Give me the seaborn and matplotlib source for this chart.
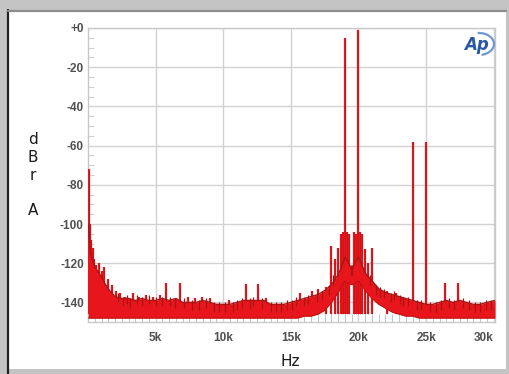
import numpy as np
import pandas as pd
import matplotlib
matplotlib.use("Agg")
import matplotlib.pyplot as plt
from matplotlib.patches import Rectangle, Arc
from matplotlib.lines import Line2D
import seaborn as sns

# --- spectrum data (frequency in kHz, level in dBrA) ---
floor_khz = [0.02, 0.1, 0.2, 0.3, 0.5, 0.7, 1.0, 1.3, 1.6, 2.0, 2.5, 3.0, 3.5, 4.0,
             4.5, 5.0, 5.5, 6.0, 6.5, 7.0, 7.5, 8.0, 8.5, 9.0, 9.5, 10.0, 10.5,
             11.0, 11.5, 12.0, 12.5, 13.0, 13.5, 14.0, 14.5, 15.0, 15.5, 16.0,
             16.5, 17.0, 17.5, 18.0, 18.5, 18.8, 19.0, 19.2, 19.5, 19.8, 20.0,
             20.2, 20.5, 21.0, 21.5, 22.0, 22.5, 23.0, 23.5, 24.0, 24.5, 25.0,
             25.5, 26.0, 26.5, 27.0, 27.5, 28.0, 28.5, 29.0, 29.5, 30.1]
floor_top = [-100, -108, -115, -118, -122, -124, -127, -131, -134, -137, -138, -138,
             -139, -138, -139, -139, -138, -139, -138, -140, -140, -140, -139, -140,
             -141, -141, -141, -140, -139, -139, -139, -139, -141, -141, -141, -140,
             -139, -138, -137, -136, -134, -131, -126, -121, -117, -119, -123, -119,
             -117, -120, -125, -129, -133, -135, -136, -137, -138, -139, -140, -141,
             -141, -140, -139, -140, -139, -140, -141, -141, -140, -139]
floor_bot = [-148, -148, -148, -148, -148, -148, -148, -148, -148, -148, -148, -148,
             -148, -148, -148, -148, -148, -148, -148, -148, -148, -148, -148, -148,
             -148, -148, -148, -148, -148, -148, -148, -148, -148, -148, -148, -148,
             -148, -147, -147, -146, -144, -140, -135, -131, -129, -130, -131, -130,
             -129, -131, -134, -138, -141, -143, -145, -146, -147, -147, -148, -148,
             -148, -148, -148, -148, -148, -148, -148, -148, -148, -148]

# tones, intermodulation products and hum/spurs
spike_khz = [0.05, 0.15, 0.25, 0.35, 0.45, 0.6, 0.8, 1.0, 1.2, 1.5, 1.8, 2.1, 2.4,
             2.7, 3.3, 3.8, 4.3, 4.8, 5.3, 5.8, 6.8, 7.4, 7.9, 8.4, 9.0, 10.4,
             11.7, 12.6, 13.2, 15.7, 16.6, 17.0, 17.6, 18.0, 18.3, 18.5, 18.7,
             18.85, 19.0, 19.15, 19.3, 19.7, 19.85, 20.0, 20.15, 20.3, 20.5, 20.7,
             21.0, 22.1, 22.8, 24.0, 25.0, 26.4, 27.4]
spike_db = [-72, -100, -108, -112, -118, -121, -120, -124, -122, -128, -131, -134,
            -135, -137, -135, -137, -136, -137, -136, -130, -130, -137, -138, -137,
            -138, -139, -130.5, -130.5, -138, -135, -134, -133, -132, -111, -118,
            -112, -105, -104, -5, -104, -105, -104, -105, -1, -104, -105, -113,
            -120, -112, -134, -135, -58, -58, -130, -130]

# small noise-floor peaks
grass_khz = [2.2, 2.6, 2.9, 3.1, 3.6, 4.0, 4.5, 5.0, 5.5, 6.1, 6.4, 7.1, 7.7, 8.2,
             8.7, 9.3, 9.7, 10.1, 10.7, 11.0, 11.4, 12.0, 12.2, 12.9, 13.5, 13.9,
             14.3, 14.7, 15.1, 15.4, 16.0, 16.3, 16.9, 17.3, 17.8, 18.15, 19.45,
             19.55, 20.85, 21.3, 21.6, 21.9, 22.4, 22.6, 23.1, 23.3, 23.7, 24.3,
             24.6, 25.3, 25.7, 26.1, 26.7, 27.1, 27.7, 28.2, 28.6, 29.0, 29.4, 29.8]
grass_db = [-135, -137, -136, -138, -136, -137, -136, -137, -137, -137, -138, -138,
            -139, -139, -138, -140, -140, -140, -140, -139, -138, -138, -137, -138,
            -140, -140, -140, -139, -139, -137, -137, -136, -135, -134, -131, -126,
            -121, -121, -126, -131, -132, -133, -135, -134, -136, -137, -137, -139,
            -139, -140, -140, -139, -138, -139, -138, -139, -140, -140, -139, -139]

y_ticks = [0, -20, -40, -60, -80, -100, -120, -140]
y_labels = ["+0", "-20", "-40", "-60", "-80", "-100", "-120", "-140"]
x_ticks = [5, 10, 15, 20, 25, 30]
x_labels = ["5k", "10k", "15k", "20k", "25k", "30k"]

band = pd.DataFrame({"kHz": floor_khz, "top": floor_top, "bot": floor_bot})

sns.set_theme(style="white")
plt.rcParams["font.family"] = ["Liberation Sans", "DejaVu Sans"]

W, H = 510, 374
fig = plt.figure(figsize=(W / 100, H / 100), dpi=100)
fig.patch.set_facecolor("#c4c4c4")


def fx(px):
    return px / W


def fy(py):
    return 1 - py / H


# white panel with dark left/top rule
fig.add_artist(Rectangle((fx(8), fy(369)), fx(498), (369 - 10) / H,
                         transform=fig.transFigure, facecolor="white",
                         edgecolor="none", zorder=0))
fig.add_artist(Line2D([fx(8), fx(8)], [fy(10), fy(374)], transform=fig.transFigure,
                      color="#202020", lw=1.6))
fig.add_artist(Line2D([fx(8), fx(506)], [fy(10.5), fy(10.5)], transform=fig.transFigure,
                      color="#8c8c8c", lw=1.6))

ax = fig.add_axes([fx(88), fy(322), fx(495 - 88), (322 - 28) / H])
ax.set_facecolor("white")

red = "#e8161c"
dark = "#a81414"

# discrete tones and spurs
ax.vlines(spike_khz, -146, spike_db, color=red, lw=1.6, zorder=3)
ax.vlines(spike_khz, -146, spike_db, color=dark, lw=0.5, zorder=3.1, alpha=0.6)

# noise floor band
ax.fill_between(band["kHz"], band["bot"], band["top"], color=red, lw=0, zorder=4)
grass_base = [g - 5 for g in grass_db]
ax.vlines(grass_khz, grass_base, grass_db, color=dark, lw=0.9, zorder=4.5)
sns.lineplot(data=band, x="kHz", y="top", ax=ax, color=dark, lw=1.0, zorder=5,
             estimator=None)
sns.lineplot(data=band, x="kHz", y="bot", ax=ax, color="#c01010", lw=0.7, zorder=5,
             estimator=None)

ax.set_xlim(0, 30.1)
ax.set_ylim(-150, 0)
ax.set_xticks(x_ticks)
ax.set_xticklabels(x_labels)
ax.set_yticks(y_ticks)
ax.set_yticklabels(y_labels)
ax.set_xticks(np.arange(0.5, 30.1, 0.5), minor=True)
ax.set_yticks(np.arange(-145, 0, 5), minor=True)
ax.grid(True, which="major", color="#d2d2d2", lw=1.0, zorder=1)
ax.set_axisbelow(True)
ax.tick_params(axis="both", which="major", length=0, labelsize=8.5,
               labelcolor="#505050")
ax.tick_params(axis="x", which="major", pad=7)
ax.tick_params(axis="y", which="major", pad=3)
ax.tick_params(axis="x", which="minor", direction="in", length=6, width=0.8,
               color="#b9c9d2", bottom=True)
ax.tick_params(axis="y", which="minor", direction="in", length=4, width=0.8,
               color="#d0d0d0", left=True)
for lab in ax.get_xticklabels() + ax.get_yticklabels():
    lab.set_fontweight("bold")
ax.get_xticklabels()[-1].set_horizontalalignment("right")
ax.get_xticklabels()[-1].set_x(30.1)
for s in ax.spines.values():
    s.set_color("#c8c8c8")
    s.set_linewidth(1.0)
ax.set_xlabel("")
ax.set_ylabel("")

# axis titles
fig.text(fx(33), fy(175), "d\nB\nr\n\nA", ha="center", va="center",
         fontsize=11, color="#1a1a1a", linespacing=1.22, family="DejaVu Sans")
fig.text(fx(290), fy(362), "Hz", ha="center", va="center", fontsize=11,
         color="#1a1a1a", family="DejaVu Sans")

# Ap badge
fig.text(fx(476), fy(45), "Ap", ha="center", va="center", fontsize=12,
         fontstyle="italic", fontweight="bold", color="#2856a8",
         family="DejaVu Sans")
fig.add_artist(Arc((fx(479), fy(44)), 30 / W, 22 / H, theta1=-80, theta2=95,
                   transform=fig.transFigure, color="#6f97d6", lw=1.6))

fig.savefig("out.png", dpi=100, facecolor=fig.get_facecolor())
